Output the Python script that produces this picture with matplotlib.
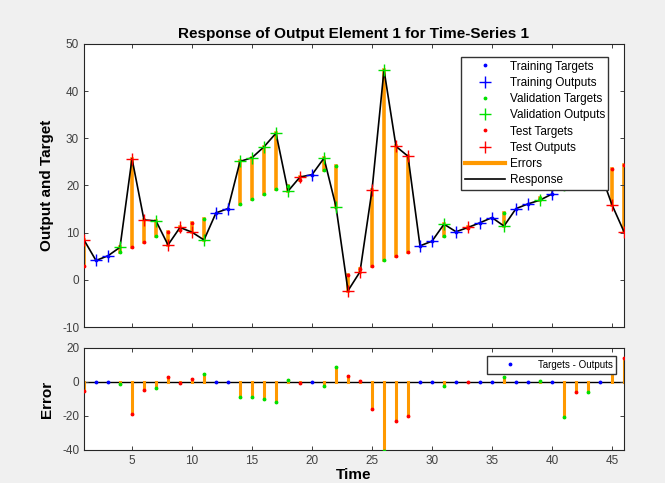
import numpy as np
import matplotlib
matplotlib.use("Agg")
import matplotlib.pyplot as plt

plt.rcParams['font.family'] = ['Liberation Sans', 'DejaVu Sans']
plt.rcParams['axes.unicode_minus'] = False

# time steps 1..46
time = np.arange(1, 47)
targets = [3.0, 4.1, 5.1, 5.9, 7.0, 8.0, 9.2, 10.1, 10.6, 12.1,
           13.0, 14.2, 15.1, 16.1, 17.1, 18.1, 19.2, 19.9, 21.1, 22.3,
           23.2, 24.1, 1.0, 2.3, 3.0, 4.2, 5.1, 6.0, 7.2, 8.2,
           9.2, 10.2, 10.9, 12.1, 13.2, 14.2, 15.1, 16.1, 17.4, 18.2,
           19.2, 20.8, 22.0, 23.0, 23.5, 24.3]
outputs = [8.45, 4.1, 5.1, 6.9, 25.7, 12.7, 12.5, 7.4, 11.1, 10.1,
           8.45, 14.2, 15.1, 25.1, 25.9, 28.2, 31.1, 18.8, 21.8, 22.3,
           25.8, 15.5, -2.3, 1.7, 19.0, 44.5, 28.3, 26.2, 7.2, 8.2,
           11.8, 10.2, 11.1, 12.1, 13.2, 11.4, 15.1, 16.1, 16.9, 18.2,
           40.0, 26.5, 27.7, 23.0, 15.9, 10.2]
# 'tr' training, 'va' validation, 'te' test
subset = ['te', 'tr', 'tr', 'va', 'te', 'te', 'va', 'te', 'te', 'te',
          'va', 'tr', 'tr', 'va', 'va', 'va', 'va', 'va', 'te', 'tr',
          'va', 'va', 'te', 'te', 'te', 'va', 'te', 'te', 'tr', 'tr',
          'va', 'tr', 'te', 'tr', 'tr', 'va', 'tr', 'tr', 'va', 'tr',
          'va', 'te', 'va', 'tr', 'te', 'te']

targets = np.array(targets)
outputs = np.array(outputs)
subset = np.array(subset)
errors = targets - outputs

colors = {'tr': '#0000ff', 'va': '#00e000', 'te': '#ff0000'}
names = {'tr': 'Training', 'va': 'Validation', 'te': 'Test'}
orange = '#ff9900'
grey = '#404040'

fig = plt.figure(figsize=(6.65, 4.83), dpi=100, facecolor='#f0f0f0')
ax1 = fig.add_axes([84/665, 1 - 327/483, 540/665, 283/483])
ax2 = fig.add_axes([84/665, 1 - 450/483, 540/665, 102/483])

# top: response
for t, y0, y1 in zip(time, targets, outputs):
    ax1.plot([t, t], [y0, y1], color=orange, lw=2.6, zorder=1)
ax1.plot(time, outputs, color='black', lw=1.2, zorder=2)
handles = []
for s in ['tr', 'va', 'te']:
    m = subset == s
    h1, = ax1.plot(time[m], targets[m], '.', color=colors[s], ms=3.5, zorder=3,
                   label=names[s] + ' Targets')
    h2, = ax1.plot(time[m], outputs[m], '+', color=colors[s], ms=8, mew=1.0, zorder=4,
                   label=names[s] + ' Outputs')
    handles += [h1, h2]
h_err, = ax1.plot([], [], color=orange, lw=3, label='Errors')
h_resp, = ax1.plot([], [], color='black', lw=1.2, label='Response')
handles += [h_err, h_resp]
leg = ax1.legend(handles=handles, loc='upper right', fontsize=8.5, frameon=True,
                 fancybox=False, edgecolor='#333333', framealpha=1,
                 borderpad=0.3, labelspacing=0.36, handlelength=3.4,
                 handletextpad=0.4, bbox_to_anchor=(0.982, 0.975))
leg.get_frame().set_linewidth(1.0)

ax1.set_xlim(1, 46)
ax1.set_ylim(-10, 50)
ax1.set_yticks([-10, 0, 10, 20, 30, 40, 50])
ax1.set_xticks([5, 10, 15, 20, 25, 30, 35, 40, 45])
ax1.set_xticklabels([])
ax1.set_title('Response of Output Element 1 for Time-Series 1',
              fontsize=11, fontweight='bold', pad=4)
ax1.set_ylabel('Output and Target', fontsize=11, fontweight='bold', labelpad=6)

# bottom: error
ax2.axhline(0, color='black', lw=1, zorder=1)
for t, e in zip(time, errors):
    ax2.plot([t, t], [0, e], color=orange, lw=2.2, zorder=2)
for s in ['tr', 'va', 'te']:
    m = subset == s
    ax2.plot(time[m], errors[m], '.', color=colors[s], ms=3.5, zorder=3)
h_to, = ax2.plot([], [], '.', color='#0000ff', ms=3.5, label='Targets - Outputs')
leg2 = ax2.legend(handles=[h_to], loc='upper right', fontsize=7, frameon=True,
                  fancybox=False, edgecolor='#333333', framealpha=1,
                  handlelength=4, borderpad=0.4, bbox_to_anchor=(0.995, 0.97))
leg2.get_frame().set_linewidth(1.0)

ax2.set_xlim(1, 46)
ax2.set_ylim(-40, 20)
ax2.set_yticks([-40, -20, 0, 20])
ax2.set_xticks([5, 10, 15, 20, 25, 30, 35, 40, 45])
ax2.set_ylabel('Error', fontsize=11, fontweight='bold', labelpad=6)
ax2.set_xlabel('Time', fontsize=11, fontweight='bold', labelpad=1)

for ax in (ax1, ax2):
    ax.set_facecolor('white')
    ax.tick_params(direction='in', top=True, right=True, length=3, width=0.7,
                   labelsize=8.5, colors=grey, labelcolor=grey)
    for sp in ax.spines.values():
        sp.set_color('#262626')
        sp.set_linewidth(0.8)

fig.savefig('out.png', dpi=100, facecolor=fig.get_facecolor())
